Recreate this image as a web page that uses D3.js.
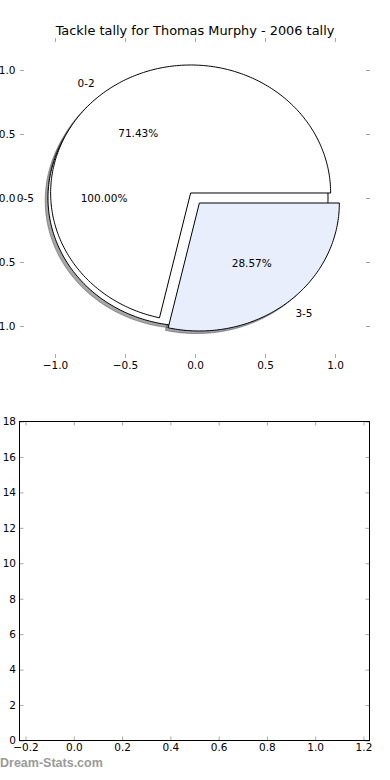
<!DOCTYPE html>
<html><head><meta charset="utf-8">
<script src="https://cdn.jsdelivr.net/npm/d3@7"></script>
<style>
body{margin:0;background:#fff;}
svg{display:block;}
text{font-family:"DejaVu Sans",sans-serif;}
</style>
</head><body>
<svg id="c" width="390" height="780"></svg>
<script>
// ---- data ----
const chartTitle = "Tackle tally for Thomas Murphy - 2006 tally";
const outerLabels = ["0-5"];
const outerValues = [7];
const outerColors = ["#ffffff"];
const innerLabels = ["0-2", "3-5"];
const innerValues = [5, 2];
const innerColors = ["#ffffff", "#e8eefb"];
const explodeAmount = 0.05;
const pieTicks = [-1, -0.5, 0, 0.5, 1];
const barXTicks = [-0.2, 0, 0.2, 0.4, 0.6, 0.8, 1.0, 1.2];
const barYTicks = [0, 2, 4, 6, 8, 10, 12, 14, 16, 18];
const watermark = "Dream-Stats.com";

const svg = d3.select("#c");
const FS = 10.5;
const tickColor = "#a8a8a8";

// ---- top (pie) axes ----
const px = d3.scaleLinear().domain([-1.25, 1.25]).range([20, 370]);
const py = d3.scaleLinear().domain([-1.25, 1.25]).range([358, 38]);

svg.append("text").attr("x", 195).attr("y", 34.5).attr("text-anchor", "middle")
  .attr("font-size", 12.9).attr("fill", "#000").text(chartTitle);

function styleAxis(g) {
  g.select(".domain").remove();
  g.selectAll(".tick line").attr("stroke", tickColor).attr("stroke-width", 1);
  g.selectAll(".tick text").attr("fill", "#000").attr("font-size", FS)
    .attr("font-family", "DejaVu Sans, sans-serif");
}
const fmt1 = d3.format(".1f");
svg.append("g").attr("transform", "translate(0,358)")
  .call(d3.axisBottom(px).tickValues(pieTicks).tickFormat(fmt1).tickSize(-4).tickPadding(3.5)).call(styleAxis);
svg.append("g").attr("transform", "translate(0,38)")
  .call(d3.axisTop(px).tickValues(pieTicks).tickFormat("").tickSize(-4)).call(styleAxis);
svg.append("g").attr("transform", "translate(20,0)")
  .call(d3.axisLeft(py).tickValues(pieTicks).tickFormat(fmt1).tickSize(-4).tickPadding(4.5)).call(styleAxis);
svg.append("g").attr("transform", "translate(370,0)")
  .call(d3.axisRight(py).tickValues(pieTicks).tickFormat("").tickSize(-4)).call(styleAxis);

// pie geometry (matplotlib convention: counter-clockwise from +x, start 0)
function buildWedges(values, labels, colors) {
  const arcs = d3.pie().sort(null).startAngle(0).endAngle(2 * Math.PI)(values);
  const total = d3.sum(values);
  return arcs.map((a, i) => {
    const t1 = a.startAngle, t2 = a.endAngle, tm = (t1 + t2) / 2;
    const cx = explodeAmount * Math.cos(tm), cy = explodeAmount * Math.sin(tm);
    return {t1, t2, tm, cx, cy, label: labels[i], color: colors[i], frac: values[i] / total};
  });
}
const line = d3.line().x(d => px(d[0])).y(d => py(d[1]));
function wedgePath(w, ox, oy) {
  const full = Math.abs((w.t2 - w.t1) - 2 * Math.PI) < 1e-9;
  const n = Math.max(8, Math.ceil((w.t2 - w.t1) / (Math.PI / 180)));
  const pts = [];
  if (!full) pts.push([w.cx + ox, w.cy + oy]);
  for (let k = 0; k <= n; k++) {
    const t = w.t1 + (w.t2 - w.t1) * k / n;
    pts.push([w.cx + ox + Math.cos(t), w.cy + oy + Math.sin(t)]);
  }
  return line(pts) + "Z";
}
const outer = buildWedges(outerValues, outerLabels, outerColors);
const inner = buildWedges(innerValues, innerLabels, innerColors);
const allW = outer.concat(inner);

// shadows (drawn below all wedges)
const gSh = svg.append("g");
allW.forEach(w => {
  const c = d3.rgb(w.color);
  const sc = d3.rgb(c.r * 0.3, c.g * 0.3, c.b * 0.3);
  gSh.append("path").attr("d", wedgePath(w, -0.02, -0.02))
    .attr("fill", sc).attr("fill-opacity", 0.5)
    .attr("stroke", sc).attr("stroke-opacity", 0.5).attr("stroke-width", 1);
});
// wedges
const gW = svg.append("g");
allW.forEach(w => {
  gW.append("path").attr("d", wedgePath(w, 0, 0))
    .attr("fill", w.color).attr("stroke", "#000").attr("stroke-width", 1)
    .attr("stroke-linejoin", "miter");
});
// labels
const gT = svg.append("g").attr("font-size", FS).attr("fill", "#000");
allW.forEach(w => {
  const lx = w.cx + 1.1 * Math.cos(w.tm), ly = w.cy + 1.1 * Math.sin(w.tm);
  gT.append("text").attr("x", px(lx)).attr("y", py(ly))
    .attr("text-anchor", lx > 0 ? "start" : "end").attr("dominant-baseline", "central")
    .text(w.label);
  const qx = w.cx + 0.6 * Math.cos(w.tm), qy = w.cy + 0.6 * Math.sin(w.tm);
  gT.append("text").attr("x", px(qx)).attr("y", py(qy))
    .attr("text-anchor", "middle").attr("dominant-baseline", "central")
    .text((w.frac * 100).toFixed(2) + "%");
});

// ---- bottom (empty) axes ----
const bx = d3.scaleLinear().domain([-0.225, 1.225]).range([19.5, 369.5]);
const by = d3.scaleLinear().domain([0, 18]).range([740.5, 421.5]);
svg.append("g").attr("transform", "translate(0,740.5)")
  .call(d3.axisBottom(bx).tickValues(barXTicks).tickFormat(fmt1).tickSize(-4).tickPadding(3)).call(styleAxis);
svg.append("g").attr("transform", "translate(0,421.5)")
  .call(d3.axisTop(bx).tickValues(barXTicks).tickFormat("").tickSize(-4)).call(styleAxis);
svg.append("g").attr("transform", "translate(19.5,0)")
  .call(d3.axisLeft(by).tickValues(barYTicks).tickFormat(d3.format("d")).tickSize(-4).tickPadding(3.5)).call(styleAxis);
svg.append("g").attr("transform", "translate(369.5,0)")
  .call(d3.axisRight(by).tickValues(barYTicks).tickFormat("").tickSize(-4)).call(styleAxis);
svg.append("rect").attr("x", bx.range()[0]).attr("y", by.range()[1])
  .attr("width", bx.range()[1] - bx.range()[0]).attr("height", by.range()[0] - by.range()[1])
  .attr("fill", "none").attr("stroke", "#000").attr("stroke-width", 1);

// watermark
svg.append("text").attr("x", 0).attr("y", 767).attr("font-size", 12.5)
  .attr("font-weight", "bold").attr("fill", "#9a9a9a")
  .style("font-family", "'Liberation Sans', Arial, sans-serif").text(watermark);
</script>
</body></html>
